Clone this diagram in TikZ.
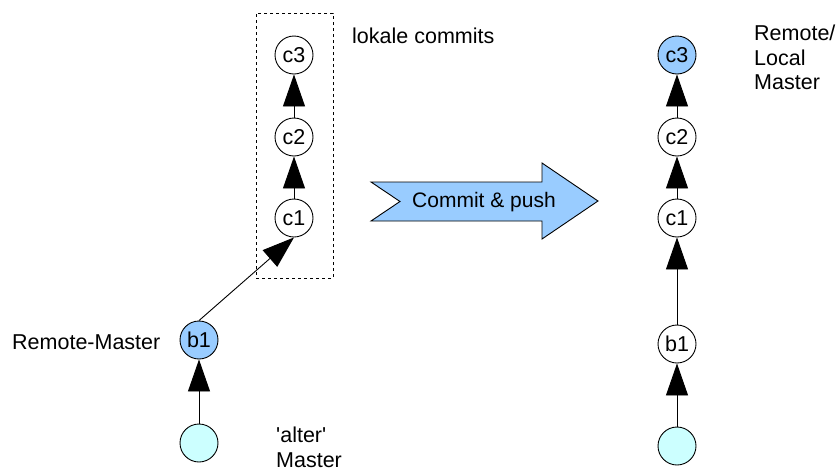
\documentclass[tikz,border=0pt]{standalone}
\usepackage{fontspec}
\setmainfont{Liberation Sans}
\newfontfamily\plainfont{Liberation Sans}
\usetikzlibrary{arrows.meta}
\definecolor{nodeblue}{RGB}{153,204,255}
\definecolor{nodecyan}{RGB}{204,255,255}
\begin{document}
\begin{tikzpicture}[x=1pt,y=-1pt,
  commit/.style={circle,draw=black,line width=0.9pt,minimum size=38pt,inner sep=0pt,font=\fontsize{21.5}{24}\selectfont},
  lbl/.style={font=\fontsize{21.5}{24.5}\selectfont,inner sep=0pt,align=left},
  link/.style={line width=0.9pt,-{Triangle[length=32pt,width=22pt]}}]
\useasboundingbox (0,0) rectangle (836,472);
% left chain
\node[commit] (lc3) at (294,55) {c3};
\node[commit] (lc2) at (294,137) {c2};
\node[commit] (lc1) at (294,218) {c1};
\node[commit,fill=nodeblue] (lb1) at (199,340) {b1};
\node[commit,fill=nodecyan] (la) at (199,443) {};
\draw[link] (lc2) -- (lc3);
\draw[link] (lc1) -- (lc2);
\draw[link] (lb1.north) -- (lc1.south);
\draw[link] (la) -- (lb1);
\node[draw,dashed,line width=0.8pt,minimum width=77pt,minimum height=265pt,inner sep=0pt] (box) at (294.5,145.5) {};
\node[lbl,anchor=west] (lokal) at (352,36) {lokale commits};
\node[lbl,anchor=west] (rm) at (12,342) {Remote-Master};
\node[lbl,anchor=north west] (alt) at (276,427) {\plainfont 'alter'\\Master};
% big arrow
\draw[fill=nodeblue,line width=0.9pt] (371,182) -- (542,182) -- (542,163) -- (598,201) -- (542,239) -- (542,221) -- (371,221) -- (400,201.5) -- cycle;
\node[font=\fontsize{21}{24}\selectfont] (cp) at (484,202) {Commit \& push};
% right chain
\node[commit,fill=nodeblue] (rc3) at (677,55) {c3};
\node[commit] (rc2) at (677,137) {c2};
\node[commit] (rc1) at (677,218) {c1};
\node[commit] (rb1) at (677,344) {b1};
\node[commit,fill=nodecyan] (ra) at (677,446) {};
\draw[link] (rc2) -- (rc3);
\draw[link] (rc1) -- (rc2);
\draw[link] (rb1) -- (rc1);
\draw[link] (ra) -- (rb1);
\node[lbl,anchor=north west] (rl) at (754,25) {Remote/\\Local\\Master};
\end{tikzpicture}
\end{document}
